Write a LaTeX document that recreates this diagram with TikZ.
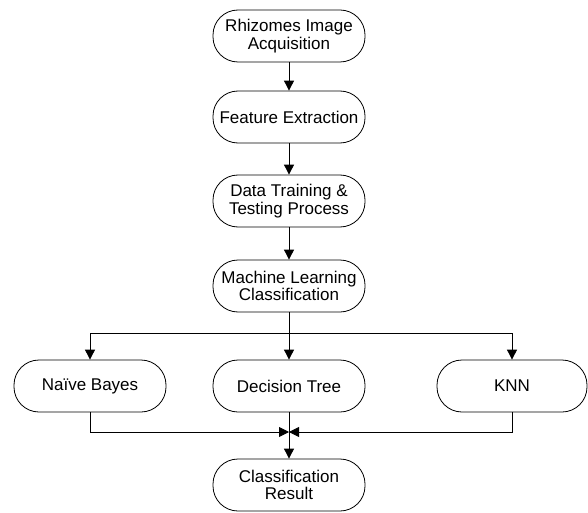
\documentclass[tikz,border=0pt]{standalone}
\usepackage{fontspec}
\setmainfont{Liberation Sans}
\usepackage{tikz}
\usetikzlibrary{positioning}
\usetikzlibrary{arrows.meta}
\tikzset{% flowchart boxes and arrows
        stepnode/.style={draw, line width=0.8pt, rectangle, rounded corners=25pt,
          minimum width=152pt, minimum height=52pt, align=center, inner sep=1pt,
          font=\fontsize{17}{17.5}\selectfont},
        flowarrow/.style={draw, line width=0.9pt,
          -{Triangle[length=10pt,width=10pt]}},
        flowline/.style={draw, line width=0.9pt}
        }

\begin{document}
\begin{tikzpicture}[x=1pt,y=-1pt]
\useasboundingbox (0,0) rectangle (588,513);
\node[stepnode] (acq) at (289,36) {Rhizomes Image\\Acquisition};
\node[stepnode] (feat) at (289,117) {Feature Extraction};
\node[stepnode] (train) at (289,201) {Data Training \&\\Testing Process};
\node[stepnode] (mlc) at (289,286) {Machine Learning\\Classification};

\node[stepnode] (nb) at (90,386) {Naïve Bayes};
\node[stepnode] (dt) at (289,386) {Decision Tree};
\node[stepnode, minimum width=150pt] (knn) at (512,386) {KNN};
\node[stepnode] (res) at (289,485) {Classification\\Result};

\coordinate (split) at (289,333);
\coordinate (join) at (289,432);

\draw[flowarrow] (acq) -- (feat);
\draw[flowarrow] (feat) -- (train);
\draw[flowarrow] (train) -- (mlc);
\draw[flowarrow] (mlc) -- (dt);
\draw[flowarrow] (split) -| (nb);
\draw[flowarrow] (split) -| (knn);

\draw[flowarrow] (nb.south) |- (join);
\draw[flowarrow] (knn.south) |- (join);
\draw[flowarrow] (dt) -- (res);
\end{tikzpicture}
\end{document}
